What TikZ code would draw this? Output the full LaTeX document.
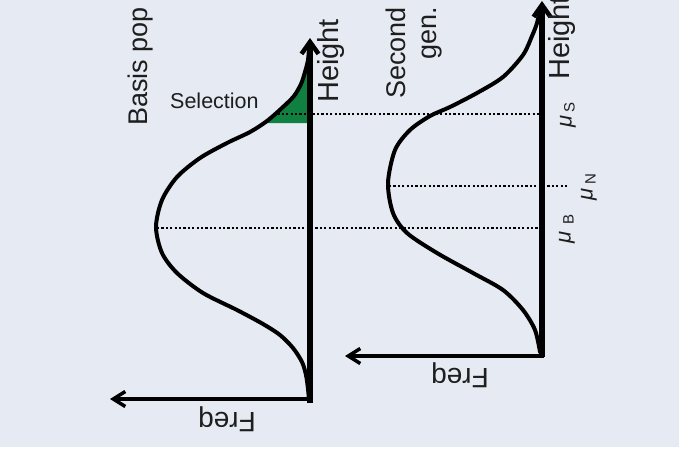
\documentclass[tikz,border=0pt]{standalone}
\usepackage{fontspec}
\setmainfont{Liberation Sans}
\usetikzlibrary{arrows.meta}
\definecolor{bgc}{RGB}{230,234,243}
\definecolor{selgreen}{RGB}{16,128,64}
\definecolor{txt}{RGB}{30,30,30}
\begin{document}
\begin{tikzpicture}[x=1pt,y=-1pt,
  axisline/.style={line width=6pt,-{Straight Barb[length=12pt,width=17pt,line width=4.5pt]}},
  freqline/.style={line width=3.5pt,-{Straight Barb[length=12pt,width=15pt,line width=3.5pt]}},
  curve/.style={line width=4pt,line join=round,line cap=round},
  dots/.style={line width=2.2pt,dash pattern=on 2.2pt off 2.2pt},
  big/.style={inner sep=0pt,text=txt,font=\fontsize{27}{30}\selectfont},
  axlbl/.style={inner sep=0pt,text=txt,font=\fontsize{29}{32}\selectfont},
  mid/.style={inner sep=0pt,text=txt,font=\fontsize{21.5}{24}\selectfont},
  mu/.style={inner sep=0pt,text=txt,rotate=90,font=\fontsize{22}{24}\selectfont}
]
\useasboundingbox (0,0) rectangle (679,466);
\fill[bgc] (0,0) rectangle (679,447);

% coordinates
\coordinate (LO) at (310,403);
\coordinate (LT) at (310,38);
\coordinate (LF0) at (312,399);
\coordinate (LF) at (110,399);
\coordinate (RO) at (542,357);
\coordinate (RT) at (542,1);
\coordinate (RF0) at (544,356);
\coordinate (RF) at (345,356);

% selection area
\fill[selgreen] plot[smooth] coordinates {(265,123) (283,107) (294,96) (301,84) (305,72) (308,60) (309,50)} -- (310,123) -- cycle;

% dotted lines
\coordinate (S1) at (273,114); \coordinate (S2) at (539,114);
\coordinate (B1) at (157,228); \coordinate (B2) at (539,228);
\coordinate (N1) at (389,186); \coordinate (N2) at (569,186);
\draw[dots] (S1) -- (S2);
\draw[dots] (B1) -- (B2);
\draw[dots] (N1) -- (N2);

% curves
\draw[curve] plot[smooth] coordinates {(309,48) (308,60) (305,72) (301,84) (294,96) (283,107) (267,121) (250,132) (227,143) (200,158) (177,177) (162,200) (156,227) (162,253) (177,273) (203,293) (237,310) (263,324) (280,335) (293,348) (302,362) (306,375) (308,389) (309,400)};
\draw[curve] plot[smooth] coordinates {(540,8) (537,23) (532,36) (523,55) (503,77) (477,93) (450,107) (430,116) (410,130) (395,150) (388,183) (393,213) (407,233) (437,253) (473,273) (503,290) (523,310) (535,330) (540,352)};

% axes
\draw[axisline] (LO) -- (LT);
\draw[freqline] (LF0) -- (LF);
\draw[axisline] (RO) -- (RT);
\draw[freqline] (RF0) -- (RF);

% texts
\node[big,rotate=90,anchor=base west] (basis) at (147.5,126) {Basis pop};
\node[mid,anchor=base west] (sel) at (170,108) {Selection};
\node[axlbl,rotate=90,anchor=base west] (h1) at (338,103) {Height};
\node[axlbl,rotate=90,anchor=base west] (h2) at (569,80) {Height};
\node[big,rotate=90,anchor=base east] (sec) at (405,7) {Second};
\node[big,rotate=90,anchor=base east] (gen) at (436,7) {gen.};
\node[axlbl,rotate=180,anchor=base west,font=\fontsize{28}{30}\selectfont] (f1) at (256,412) {Freq};
\node[axlbl,rotate=180,anchor=base west,font=\fontsize{28}{30}\selectfont] (f2) at (489,368) {Freq};

\node[mu] (muS) at (568,115) {\itshape μ\kern2pt\raisebox{-3pt}{\upshape\fontsize{15}{15}\selectfont S}};
\node[mu] (muN) at (589,187) {\itshape μ\kern4pt\raisebox{-3pt}{\upshape\fontsize{15}{15}\selectfont N}};
\node[mu] (muB) at (567,229) {\itshape μ\kern6pt\raisebox{-3pt}{\upshape\fontsize{15}{15}\selectfont B}};
\end{tikzpicture}
\end{document}
